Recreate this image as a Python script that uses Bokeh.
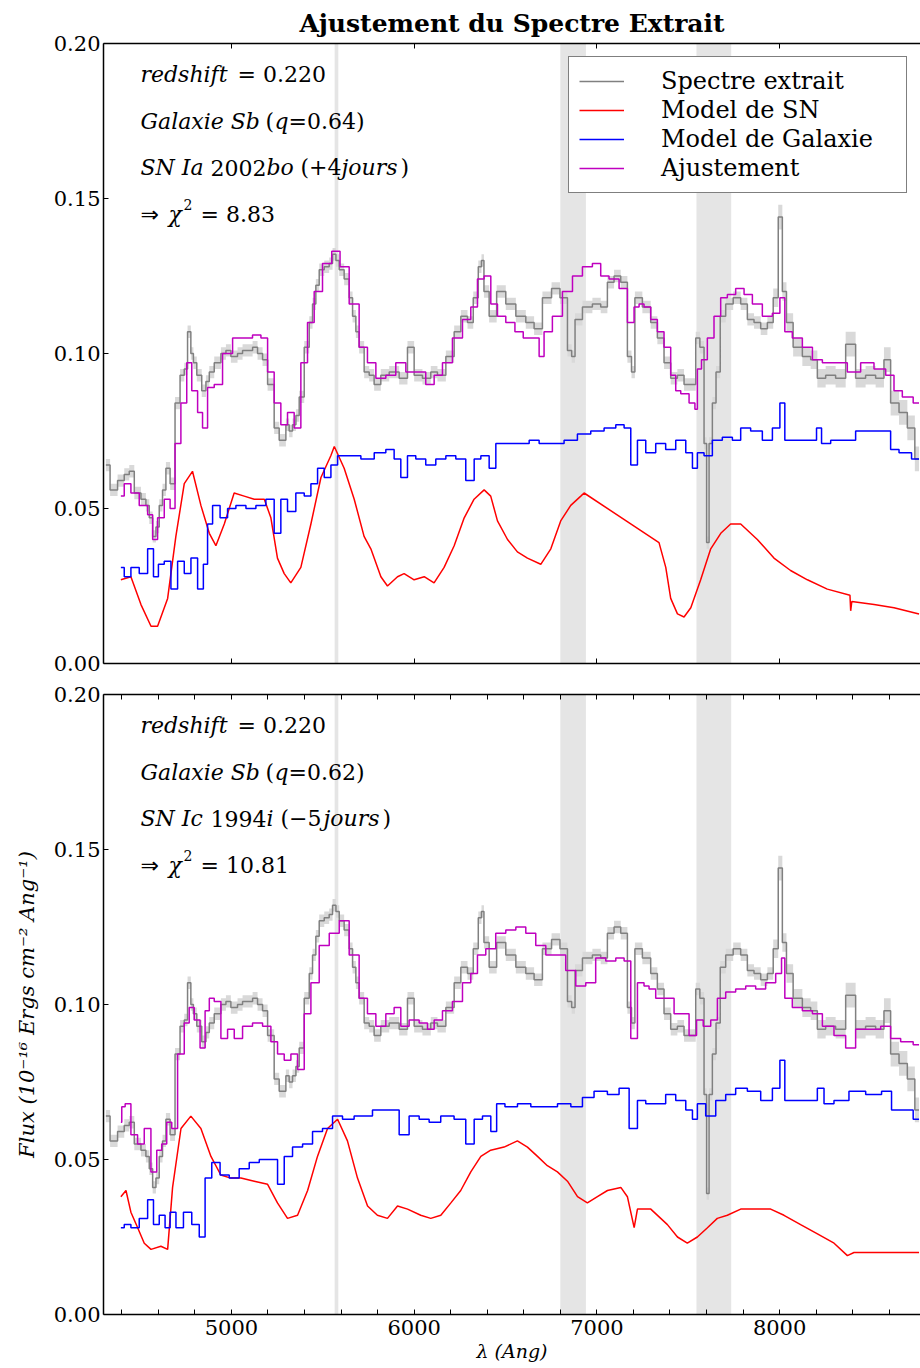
from bokeh.plotting import figure
from bokeh.models import (Range1d, LinearAxis, FixedTicker, PrintfTickFormatter,
                          Legend, LegendItem, BoxAnnotation, Label)
from bokeh.layouts import column
from bokeh.embed import file_html
from bokeh.resources import INLINE

# ---------------- data ----------------
# extracted spectrum (same in both panels)
wl_spec = [4313, 4359, 4395, 4432, 4450, 4487, 4523, 4541, 4560, 4578,
           4596, 4614, 4632, 4651, 4678, 4705, 4733, 4751, 4769, 4787,
           4797, 4824, 4851, 4870, 4888, 4924, 4961, 4979, 5015, 5052,
           5070, 5107, 5125, 5161, 5180, 5216, 5252, 5271, 5289, 5307,
           5325, 5344, 5362, 5380, 5417, 5435, 5453, 5471, 5490, 5526,
           5544, 5563, 5581, 5599, 5635, 5654, 5672, 5690, 5708, 5745,
           5763, 5799, 5836, 5891, 5945, 5982, 6018, 6073, 6109, 6146,
           6201, 6237, 6274, 6310, 6337, 6365, 6372, 6392, 6429, 6474,
           6529, 6584, 6638, 6675, 6729, 6775, 6821, 6857, 6867, 6894,
           6948, 7003, 7039, 7076, 7112, 7149, 7185, 7194, 7222, 7276,
           7313, 7349, 7386, 7422, 7459, 7495, 7532, 7550, 7577, 7596,
           7605, 7623, 7641, 7663, 7687, 7723, 7769, 7805, 7842, 7878,
           7915, 7951, 7979, 8006, 8024, 8051, 8097, 8152, 8188, 8225,
           8279, 8334, 8389, 8443, 8498, 8553, 8589, 8626, 8681, 8717,
           8763]
flux_spec = [0.064, 0.056, 0.059, 0.061, 0.062, 0.055, 0.053, 0.051, 0.047, 0.041,
             0.044, 0.051, 0.056, 0.063, 0.058, 0.084, 0.093, 0.095, 0.107, 0.100,
             0.097, 0.093, 0.088, 0.091, 0.094, 0.097, 0.100, 0.101, 0.099, 0.100,
             0.101, 0.101, 0.102, 0.100, 0.098, 0.090, 0.076, 0.072, 0.072, 0.077,
             0.075, 0.077, 0.080, 0.086, 0.102, 0.110, 0.116, 0.122, 0.127, 0.128,
             0.129, 0.132, 0.130, 0.127, 0.124, 0.118, 0.112, 0.107, 0.102, 0.094,
             0.093, 0.090, 0.093, 0.094, 0.092, 0.102, 0.093, 0.092, 0.094, 0.093,
             0.099, 0.107, 0.112, 0.110, 0.118, 0.128, 0.130, 0.120, 0.112, 0.120,
             0.116, 0.112, 0.110, 0.108, 0.118, 0.121, 0.118, 0.101, 0.099, 0.111,
             0.115, 0.116, 0.115, 0.123, 0.125, 0.123, 0.099, 0.094, 0.118, 0.115,
             0.110, 0.105, 0.097, 0.092, 0.093, 0.090, 0.090, 0.105, 0.102, 0.071,
             0.039, 0.071, 0.084, 0.094, 0.112, 0.116, 0.118, 0.116, 0.111, 0.110,
             0.108, 0.110, 0.118, 0.144, 0.120, 0.110, 0.102, 0.099, 0.098, 0.092,
             0.093, 0.092, 0.103, 0.092, 0.093, 0.092, 0.098, 0.084, 0.081, 0.076,
             0.066]
err_spec = [0.002, 0.002, 0.002, 0.002, 0.002, 0.002, 0.002, 0.002, 0.002, 0.002,
            0.002, 0.002, 0.002, 0.002, 0.002, 0.002, 0.002, 0.002, 0.002, 0.002,
            0.002, 0.002, 0.002, 0.002, 0.002, 0.002, 0.002, 0.002, 0.002, 0.002,
            0.002, 0.002, 0.002, 0.002, 0.002, 0.002, 0.002, 0.002, 0.002, 0.002,
            0.002, 0.002, 0.002, 0.002, 0.002, 0.002, 0.002, 0.002, 0.002, 0.002,
            0.002, 0.002, 0.002, 0.002, 0.002, 0.002, 0.002, 0.002, 0.002, 0.002,
            0.002, 0.002, 0.002, 0.002, 0.002, 0.002, 0.002, 0.002, 0.002, 0.002,
            0.002, 0.002, 0.002, 0.002, 0.002, 0.002, 0.002, 0.002, 0.002, 0.002,
            0.002, 0.002, 0.002, 0.002, 0.002, 0.002, 0.002, 0.002, 0.002, 0.002,
            0.002, 0.002, 0.002, 0.002, 0.002, 0.002, 0.002, 0.002, 0.002, 0.002,
            0.002, 0.002, 0.002, 0.002, 0.002, 0.002, 0.002, 0.002, 0.002, 0.002,
            0.002, 0.002, 0.002, 0.002, 0.002, 0.002, 0.002, 0.002, 0.002, 0.002,
            0.002, 0.002, 0.003, 0.004, 0.003, 0.003, 0.003, 0.003, 0.003, 0.003,
            0.003, 0.003, 0.004, 0.003, 0.003, 0.003, 0.004, 0.004, 0.004, 0.004,
            0.004]

# top panel: SN Ia 2002bo fit
wl_fit1 = [4395, 4432, 4468, 4523, 4560, 4578, 4614, 4651, 4678, 4705,
           4742, 4769, 4797, 4833, 4851, 4888, 4924, 4979, 5034, 5088,
           5143, 5180, 5216, 5252, 5289, 5325, 5362, 5398, 5435, 5471,
           5526, 5572, 5617, 5672, 5726, 5763, 5818, 5872, 5927, 5982,
           6036, 6091, 6128, 6182, 6237, 6292, 6328, 6365, 6401, 6438,
           6474, 6529, 6574, 6620, 6675, 6693, 6729, 6784, 6839, 6894,
           6948, 7003, 7039, 7094, 7149, 7185, 7222, 7240, 7276, 7313,
           7349, 7386, 7422, 7441, 7477, 7532, 7541, 7559, 7586, 7623,
           7659, 7696, 7732, 7787, 7824, 7878, 7933, 7988, 8015, 8042,
           8097, 8152, 8207, 8261, 8334, 8407, 8480, 8553, 8608, 8644,
           8699, 8763]
flux_fit1 = [0.054, 0.058, 0.055, 0.051, 0.048, 0.040, 0.047, 0.053, 0.050, 0.071,
             0.084, 0.097, 0.088, 0.081, 0.076, 0.089, 0.090, 0.100, 0.105, 0.105,
             0.106, 0.105, 0.094, 0.084, 0.077, 0.081, 0.076, 0.097, 0.110, 0.120,
             0.129, 0.133, 0.128, 0.116, 0.102, 0.097, 0.092, 0.093, 0.097, 0.094,
             0.094, 0.090, 0.093, 0.097, 0.105, 0.111, 0.115, 0.124, 0.125, 0.116,
             0.112, 0.110, 0.107, 0.105, 0.105, 0.099, 0.107, 0.112, 0.120, 0.125,
             0.128, 0.129, 0.125, 0.124, 0.121, 0.110, 0.115, 0.116, 0.115, 0.111,
             0.107, 0.102, 0.093, 0.088, 0.087, 0.084, 0.082, 0.095, 0.098, 0.105,
             0.112, 0.118, 0.119, 0.121, 0.119, 0.116, 0.112, 0.113, 0.118, 0.107,
             0.105, 0.102, 0.098, 0.097, 0.097, 0.094, 0.097, 0.095, 0.093, 0.088,
             0.086, 0.084]
wl_gal1 = [4395, 4432, 4468, 4523, 4560, 4587, 4614, 4651, 4687, 4724,
           4760, 4797, 4833, 4860, 4879, 4915, 4961, 4997, 5052, 5107,
           5161, 5216, 5252, 5289, 5325, 5380, 5417, 5453, 5490, 5526,
           5563, 5599, 5672, 5745, 5818, 5872, 5909, 5945, 5982, 6036,
           6091, 6146, 6201, 6255, 6310, 6347, 6383, 6438, 6456, 6529,
           6602, 6657, 6711, 6784, 6857, 6930, 7003, 7076, 7131, 7167,
           7204, 7240, 7295, 7349, 7404, 7459, 7514, 7532, 7568, 7605,
           7659, 7714, 7769, 7805, 7878, 7933, 7988, 8015, 8042, 8115,
           8188, 8216, 8243, 8316, 8389, 8443, 8517, 8589, 8626, 8681,
           8763]
flux_gal1 = [0.031, 0.028, 0.031, 0.029, 0.037, 0.028, 0.032, 0.033, 0.024, 0.033,
             0.029, 0.034, 0.024, 0.032, 0.045, 0.051, 0.047, 0.050, 0.051, 0.050,
             0.051, 0.053, 0.042, 0.053, 0.049, 0.055, 0.054, 0.058, 0.063, 0.060,
             0.064, 0.067, 0.067, 0.066, 0.068, 0.069, 0.066, 0.060, 0.067, 0.066,
             0.064, 0.066, 0.067, 0.066, 0.059, 0.066, 0.067, 0.063, 0.071, 0.071,
             0.071, 0.072, 0.071, 0.071, 0.072, 0.074, 0.075, 0.076, 0.077, 0.076,
             0.064, 0.072, 0.068, 0.071, 0.069, 0.072, 0.068, 0.063, 0.068, 0.067,
             0.072, 0.073, 0.072, 0.076, 0.075, 0.072, 0.076, 0.084, 0.072, 0.072,
             0.072, 0.076, 0.071, 0.072, 0.072, 0.075, 0.075, 0.075, 0.069, 0.068,
             0.066]
wl_sn1 = [4395, 4450, 4505, 4560, 4596, 4651, 4696, 4742, 4787, 4833,
          4879, 4915, 4961, 5015, 5070, 5125, 5180, 5216, 5252, 5289,
          5325, 5380, 5435, 5490, 5544, 5563, 5617, 5672, 5726, 5763,
          5818, 5854, 5909, 5945, 6000, 6055, 6109, 6164, 6219, 6274,
          6328, 6383, 6419, 6456, 6511, 6565, 6620, 6693, 6748, 6802,
          6857, 6912, 6930, 7340, 7377, 7404, 7441, 7477, 7514, 7568,
          7623, 7678, 7732, 7787, 7878, 7969, 8060, 8152, 8261, 8385,
          8389, 8395, 8517, 8626, 8763]
flux_sn1 = [0.027, 0.028, 0.019, 0.012, 0.012, 0.021, 0.041, 0.058, 0.062, 0.051,
            0.042, 0.038, 0.045, 0.055, 0.054, 0.053, 0.053, 0.047, 0.034, 0.029,
            0.026, 0.031, 0.045, 0.060, 0.067, 0.070, 0.063, 0.053, 0.041, 0.037,
            0.028, 0.025, 0.028, 0.029, 0.027, 0.028, 0.026, 0.031, 0.038, 0.047,
            0.053, 0.056, 0.054, 0.046, 0.040, 0.036, 0.034, 0.032, 0.037, 0.046,
            0.051, 0.054, 0.055, 0.039, 0.031, 0.021, 0.016, 0.015, 0.018, 0.027,
            0.037, 0.042, 0.045, 0.045, 0.040, 0.034, 0.030, 0.027, 0.024, 0.022,
            0.017, 0.020, 0.019, 0.018, 0.016]

# bottom panel: SN Ic 1994i fit
wl_fit2 = [4395, 4405, 4432, 4468, 4505, 4541, 4578, 4605, 4632, 4660,
           4687, 4724, 4760, 4778, 4815, 4842, 4870, 4888, 4924, 4961,
           4997, 5034, 5088, 5143, 5198, 5234, 5271, 5307, 5344, 5380,
           5417, 5453, 5508, 5563, 5617, 5672, 5726, 5763, 5818, 5872,
           5909, 5945, 6000, 6055, 6091, 6128, 6182, 6237, 6292, 6328,
           6365, 6419, 6474, 6529, 6584, 6638, 6693, 6748, 6802, 6857,
           6912, 6966, 7021, 7076, 7131, 7167, 7204, 7240, 7276, 7295,
           7349, 7404, 7441, 7477, 7532, 7559, 7605, 7641, 7678, 7732,
           7787, 7842, 7896, 7951, 8006, 8015, 8042, 8097, 8152, 8207,
           8261, 8334, 8389, 8443, 8517, 8589, 8626, 8699, 8763]
flux_fit2 = [0.062, 0.067, 0.068, 0.058, 0.055, 0.060, 0.046, 0.053, 0.055, 0.062,
             0.060, 0.084, 0.094, 0.099, 0.095, 0.086, 0.098, 0.102, 0.101, 0.089,
             0.092, 0.089, 0.093, 0.094, 0.093, 0.088, 0.084, 0.082, 0.084, 0.079,
             0.097, 0.107, 0.119, 0.123, 0.127, 0.116, 0.102, 0.097, 0.093, 0.097,
             0.099, 0.093, 0.095, 0.094, 0.092, 0.095, 0.098, 0.101, 0.107, 0.110,
             0.116, 0.118, 0.123, 0.124, 0.125, 0.123, 0.119, 0.116, 0.116, 0.111,
             0.106, 0.107, 0.115, 0.114, 0.115, 0.114, 0.089, 0.107, 0.106, 0.105,
             0.102, 0.102, 0.097, 0.097, 0.090, 0.095, 0.093, 0.095, 0.102, 0.104,
             0.105, 0.106, 0.105, 0.107, 0.110, 0.115, 0.102, 0.099, 0.098, 0.097,
             0.093, 0.090, 0.086, 0.092, 0.092, 0.093, 0.089, 0.088, 0.087]
wl_gal2 = [4395, 4432, 4468, 4523, 4560, 4587, 4623, 4651, 4678, 4715,
           4760, 4806, 4842, 4870, 4915, 4961, 5015, 5070, 5125, 5180,
           5234, 5271, 5307, 5362, 5417, 5471, 5526, 5581, 5635, 5708,
           5836, 5891, 5945, 6000, 6055, 6109, 6182, 6255, 6310, 6347,
           6401, 6438, 6465, 6529, 6602, 6675, 6748, 6821, 6894, 6948,
           7021, 7094, 7149, 7204, 7240, 7295, 7349, 7404, 7459, 7514,
           7532, 7568, 7623, 7678, 7732, 7787, 7860, 7933, 7988, 8015,
           8042, 8115, 8188, 8225, 8261, 8334, 8425, 8517, 8599, 8626,
           8699, 8763]
flux_gal2 = [0.028, 0.029, 0.028, 0.031, 0.037, 0.029, 0.032, 0.028, 0.033, 0.028,
             0.033, 0.029, 0.025, 0.044, 0.049, 0.045, 0.044, 0.047, 0.049, 0.050,
             0.050, 0.042, 0.051, 0.054, 0.055, 0.059, 0.060, 0.064, 0.063, 0.064,
             0.066, 0.066, 0.058, 0.064, 0.063, 0.062, 0.064, 0.063, 0.055, 0.063,
             0.064, 0.059, 0.068, 0.067, 0.068, 0.067, 0.067, 0.068, 0.067, 0.070,
             0.072, 0.071, 0.073, 0.060, 0.069, 0.068, 0.068, 0.071, 0.069, 0.066,
             0.063, 0.068, 0.064, 0.069, 0.071, 0.073, 0.072, 0.069, 0.073, 0.082,
             0.069, 0.069, 0.069, 0.073, 0.068, 0.069, 0.072, 0.071, 0.072, 0.066,
             0.066, 0.063]
wl_sn2 = [4395, 4423, 4450, 4487, 4523, 4560, 4614, 4651, 4678, 4724,
          4778, 4833, 4888, 4942, 4997, 5052, 5125, 5198, 5252, 5307,
          5362, 5417, 5471, 5526, 5581, 5635, 5690, 5745, 5799, 5854,
          5909, 5964, 6036, 6091, 6146, 6201, 6255, 6310, 6365, 6419,
          6492, 6565, 6620, 6675, 6729, 6784, 6839, 6894, 6948, 7003,
          7058, 7131, 7167, 7204, 7222, 7295, 7386, 7441, 7495, 7550,
          7605, 7659, 7714, 7787, 7860, 7951, 8024, 8115, 8207, 8298,
          8371, 8407, 8517, 8626, 8763]
flux_sn2 = [0.038, 0.040, 0.033, 0.028, 0.023, 0.021, 0.022, 0.021, 0.041, 0.060,
            0.064, 0.060, 0.051, 0.045, 0.044, 0.044, 0.043, 0.042, 0.036, 0.031,
            0.032, 0.040, 0.051, 0.060, 0.063, 0.056, 0.044, 0.035, 0.032, 0.031,
            0.035, 0.034, 0.032, 0.031, 0.032, 0.036, 0.040, 0.046, 0.051, 0.053,
            0.054, 0.056, 0.054, 0.051, 0.048, 0.046, 0.043, 0.038, 0.036, 0.038,
            0.040, 0.041, 0.038, 0.028, 0.034, 0.034, 0.029, 0.025, 0.023, 0.025,
            0.028, 0.031, 0.032, 0.034, 0.034, 0.034, 0.032, 0.029, 0.026, 0.023,
            0.019, 0.020, 0.020, 0.020, 0.020]

# masked (telluric / sky) regions, Angstrom
mask_left = [5565, 6800, 7545]
mask_right = [5585, 6940, 7735]

legend_labels = ["Spectre extrait", "Model de SN", "Model de Galaxie", "Ajustement"]
x_major = [5000, 6000, 7000, 8000]
x_minor = [4400, 4600, 4800, 5200, 5400, 5600, 5800, 6200, 6400, 6600, 6800,
           7200, 7400, 7600, 7800, 8200, 8400, 8600]
y_ticks = [0.0, 0.05, 0.10, 0.15, 0.20]

# ---------------- layout constants ----------------
X0, X1 = 4300, 8771
FRAME_W, FRAME_H = 817, 620
LEFT = 103
SERIF = "DejaVu Serif"

C_GRAY, C_RED, C_BLUE, C_MAG = "#808080", "#ff0000", "#0000ff", "#bf00bf"

x_range = Range1d(X0, X1)


def px_to_wl(px):
    # horizontal pixel position on the page -> wavelength (frame starts at LEFT)
    return X0 + (px - LEFT) * (X1 - X0) / FRAME_W


def style_axis(ax, labels=True, size="21px"):
    ax.axis_line_color = "black"
    ax.axis_line_width = 1.5
    ax.major_tick_in = 5
    ax.major_tick_out = 0
    ax.minor_tick_in = 5
    ax.minor_tick_out = 0
    ax.major_tick_line_color = "black"
    ax.minor_tick_line_color = "black"
    ax.major_label_text_font = SERIF
    ax.major_label_text_font_size = size
    ax.major_label_text_color = "black"
    ax.major_label_standoff = 4
    ax.axis_label_text_color = "black"
    if not labels:
        ax.major_label_overrides = {v: "" for v in x_major}
        ax.major_label_standoff = 0


def make_panel(top, bottom, minor, wl_fit, flux_fit, wl_gal, flux_gal, wl_sn, flux_sn,
               title=None, ylabel=None, xlabel=None):
    p = figure(frame_width=FRAME_W, frame_height=FRAME_H, x_range=x_range,
               y_range=Range1d(0, 0.2), output_backend="svg", toolbar_location=None,
               min_border_left=LEFT, min_border_right=0, min_border_top=top,
               min_border_bottom=bottom, x_axis_location=None, y_axis_location=None)
    p.outline_line_color = None
    p.background_fill_color = "white"
    p.border_fill_color = "white"
    for g in p.grid:
        g.visible = False

    if title:
        p.title.text = title
        p.title.text_font = SERIF
        p.title.text_font_style = "bold"
        p.title.text_font_size = "25px"
        p.title.text_color = "black"
        p.title.align = "center"
        p.title.standoff = 12
        p.title.offset = 0

    xt = FixedTicker(ticks=x_major, minor_ticks=x_minor if minor else [])
    yt = FixedTicker(ticks=y_ticks, minor_ticks=[])

    ax_b = LinearAxis(ticker=xt)
    style_axis(ax_b, labels=xlabel is not None)
    if xlabel:
        ax_b.axis_label = xlabel
        ax_b.axis_label_text_font = SERIF
        ax_b.axis_label_text_font_style = "italic"
        ax_b.axis_label_text_font_size = "19px"
        ax_b.axis_label_standoff = 2
        ax_b.major_label_standoff = 5
    p.add_layout(ax_b, "below")

    ax_t = LinearAxis(ticker=xt)
    style_axis(ax_t, labels=False)
    p.add_layout(ax_t, "above")

    ax_l = LinearAxis(ticker=yt, formatter=PrintfTickFormatter(format="%.2f"))
    style_axis(ax_l)
    ax_l.major_label_standoff = 3
    if ylabel:
        ax_l.axis_label = ylabel
        ax_l.axis_label_text_font = SERIF
        ax_l.axis_label_text_font_style = "italic"
        ax_l.axis_label_text_font_size = "21px"
        ax_l.axis_label_standoff = 12
    p.add_layout(ax_l, "left")

    for l, r in zip(mask_left, mask_right):
        p.add_layout(BoxAnnotation(left=l, right=r, fill_color="#e5e5e5",
                                   fill_alpha=1.0, line_color=None, level="underlay"))

    lo = [f - e for f, e in zip(flux_spec, err_spec)]
    hi = [f + e for f, e in zip(flux_spec, err_spec)]
    try:
        p.varea_step(x=wl_spec, y1=lo, y2=hi, step_mode="center",
                     fill_color="#d9d9d9", fill_alpha=1.0)
    except Exception:
        p.segment(x0=wl_spec, y0=lo, x1=wl_spec, y1=hi, line_color="#d0d0d0", line_width=2)
    r_gray = p.step(x=wl_spec, y=flux_spec, mode="center", line_color=C_GRAY, line_width=1.5)
    r_sn = p.line(x=wl_sn, y=flux_sn, line_color=C_RED, line_width=1.5)
    r_gal = p.step(x=wl_gal, y=flux_gal, mode="center", line_color=C_BLUE, line_width=1.5)
    r_fit = p.step(x=wl_fit, y=flux_fit, mode="center", line_color=C_MAG, line_width=1.5)
    return p, [r_gray, r_sn, r_gal, r_fit]


def add_text(p, pieces):
    for txt, px, yv, style, size, font in pieces:
        p.add_layout(Label(x=px_to_wl(px), y=yv, text=txt, text_font=font,
                           text_font_style=style, text_font_size=size,
                           text_baseline="middle", text_align="left",
                           text_color="black"))


L1, L2, L3, L4 = 0.190, 0.175, 0.160, 0.145
SUP = 0.003
FS = "22px"
SANS = "DejaVu Sans"

top_text = [
    ("redshift", 140, L1, "italic", FS, SERIF), ("= 0.220", 237, L1, "normal", FS, SERIF),
    ("Galaxie Sb", 140, L2, "italic", FS, SERIF), ("(", 265, L2, "normal", FS, SERIF),
    ("q", 274, L2, "italic", FS, SERIF), ("=0.64)", 288, L2, "normal", FS, SERIF),
    ("SN Ia", 140, L3, "italic", FS, SERIF), ("2002", 210, L3, "normal", FS, SERIF),
    ("bo", 266, L3, "italic", FS, SERIF), ("(+4", 300, L3, "normal", FS, SERIF),
    ("jours", 341, L3, "italic", FS, SERIF), (")", 400, L3, "normal", FS, SERIF),
    ("\u21d2", 140, L4, "normal", FS, SANS), ("\u03c7", 168, L4, "italic", FS, SERIF),
    ("2", 183, L4 + SUP, "normal", "14px", SERIF), ("= 8.83", 200, L4, "normal", FS, SERIF),
]
bot_text = [
    ("redshift", 140, L1, "italic", FS, SERIF), ("= 0.220", 237, L1, "normal", FS, SERIF),
    ("Galaxie Sb", 140, L2, "italic", FS, SERIF), ("(", 265, L2, "normal", FS, SERIF),
    ("q", 274, L2, "italic", FS, SERIF), ("=0.62)", 288, L2, "normal", FS, SERIF),
    ("SN Ic", 140, L3, "italic", FS, SERIF), ("1994", 210, L3, "normal", FS, SERIF),
    ("i", 266, L3, "italic", FS, SERIF), ("(\u22125", 280, L3, "normal", FS, SERIF),
    ("jours", 323, L3, "italic", FS, SERIF), (")", 382, L3, "normal", FS, SERIF),
    ("\u21d2", 140, L4, "normal", FS, SANS), ("\u03c7", 168, L4, "italic", FS, SERIF),
    ("2", 183, L4 + SUP, "normal", "14px", SERIF), ("= 10.81", 200, L4, "normal", FS, SERIF),
]

p1, rs1 = make_panel(43, 15, False, wl_fit1, flux_fit1, wl_gal1, flux_gal1, wl_sn1, flux_sn1,
                     title="Ajustement du Spectre Extrait")
add_text(p1, top_text)
legend = Legend(items=[LegendItem(label=lab, renderers=[r]) for lab, r in zip(legend_labels, rs1)],
                location="top_right", margin=13, padding=10, spacing=1,
                glyph_width=45, glyph_height=20, label_height=28, label_width=235,
                label_standoff=37, label_text_font=SERIF, label_text_font_size="24px",
                label_text_color="black",
                border_line_color="black", border_line_width=1.5,
                background_fill_color="white", background_fill_alpha=1.0)
p1.add_layout(legend)

p2, rs2 = make_panel(16, 52, True, wl_fit2, flux_fit2, wl_gal2, flux_gal2, wl_sn2, flux_sn2,
                     ylabel="Flux (10\u207b\u00b9\u2076 Ergs cm\u207b\u00b2 Ang\u207b\u00b9)",
                     xlabel="\u03bb (Ang)")
add_text(p2, bot_text)

layout = column(p1, p2, spacing=0)
open("out.html", "w").write(file_html(layout, INLINE))
